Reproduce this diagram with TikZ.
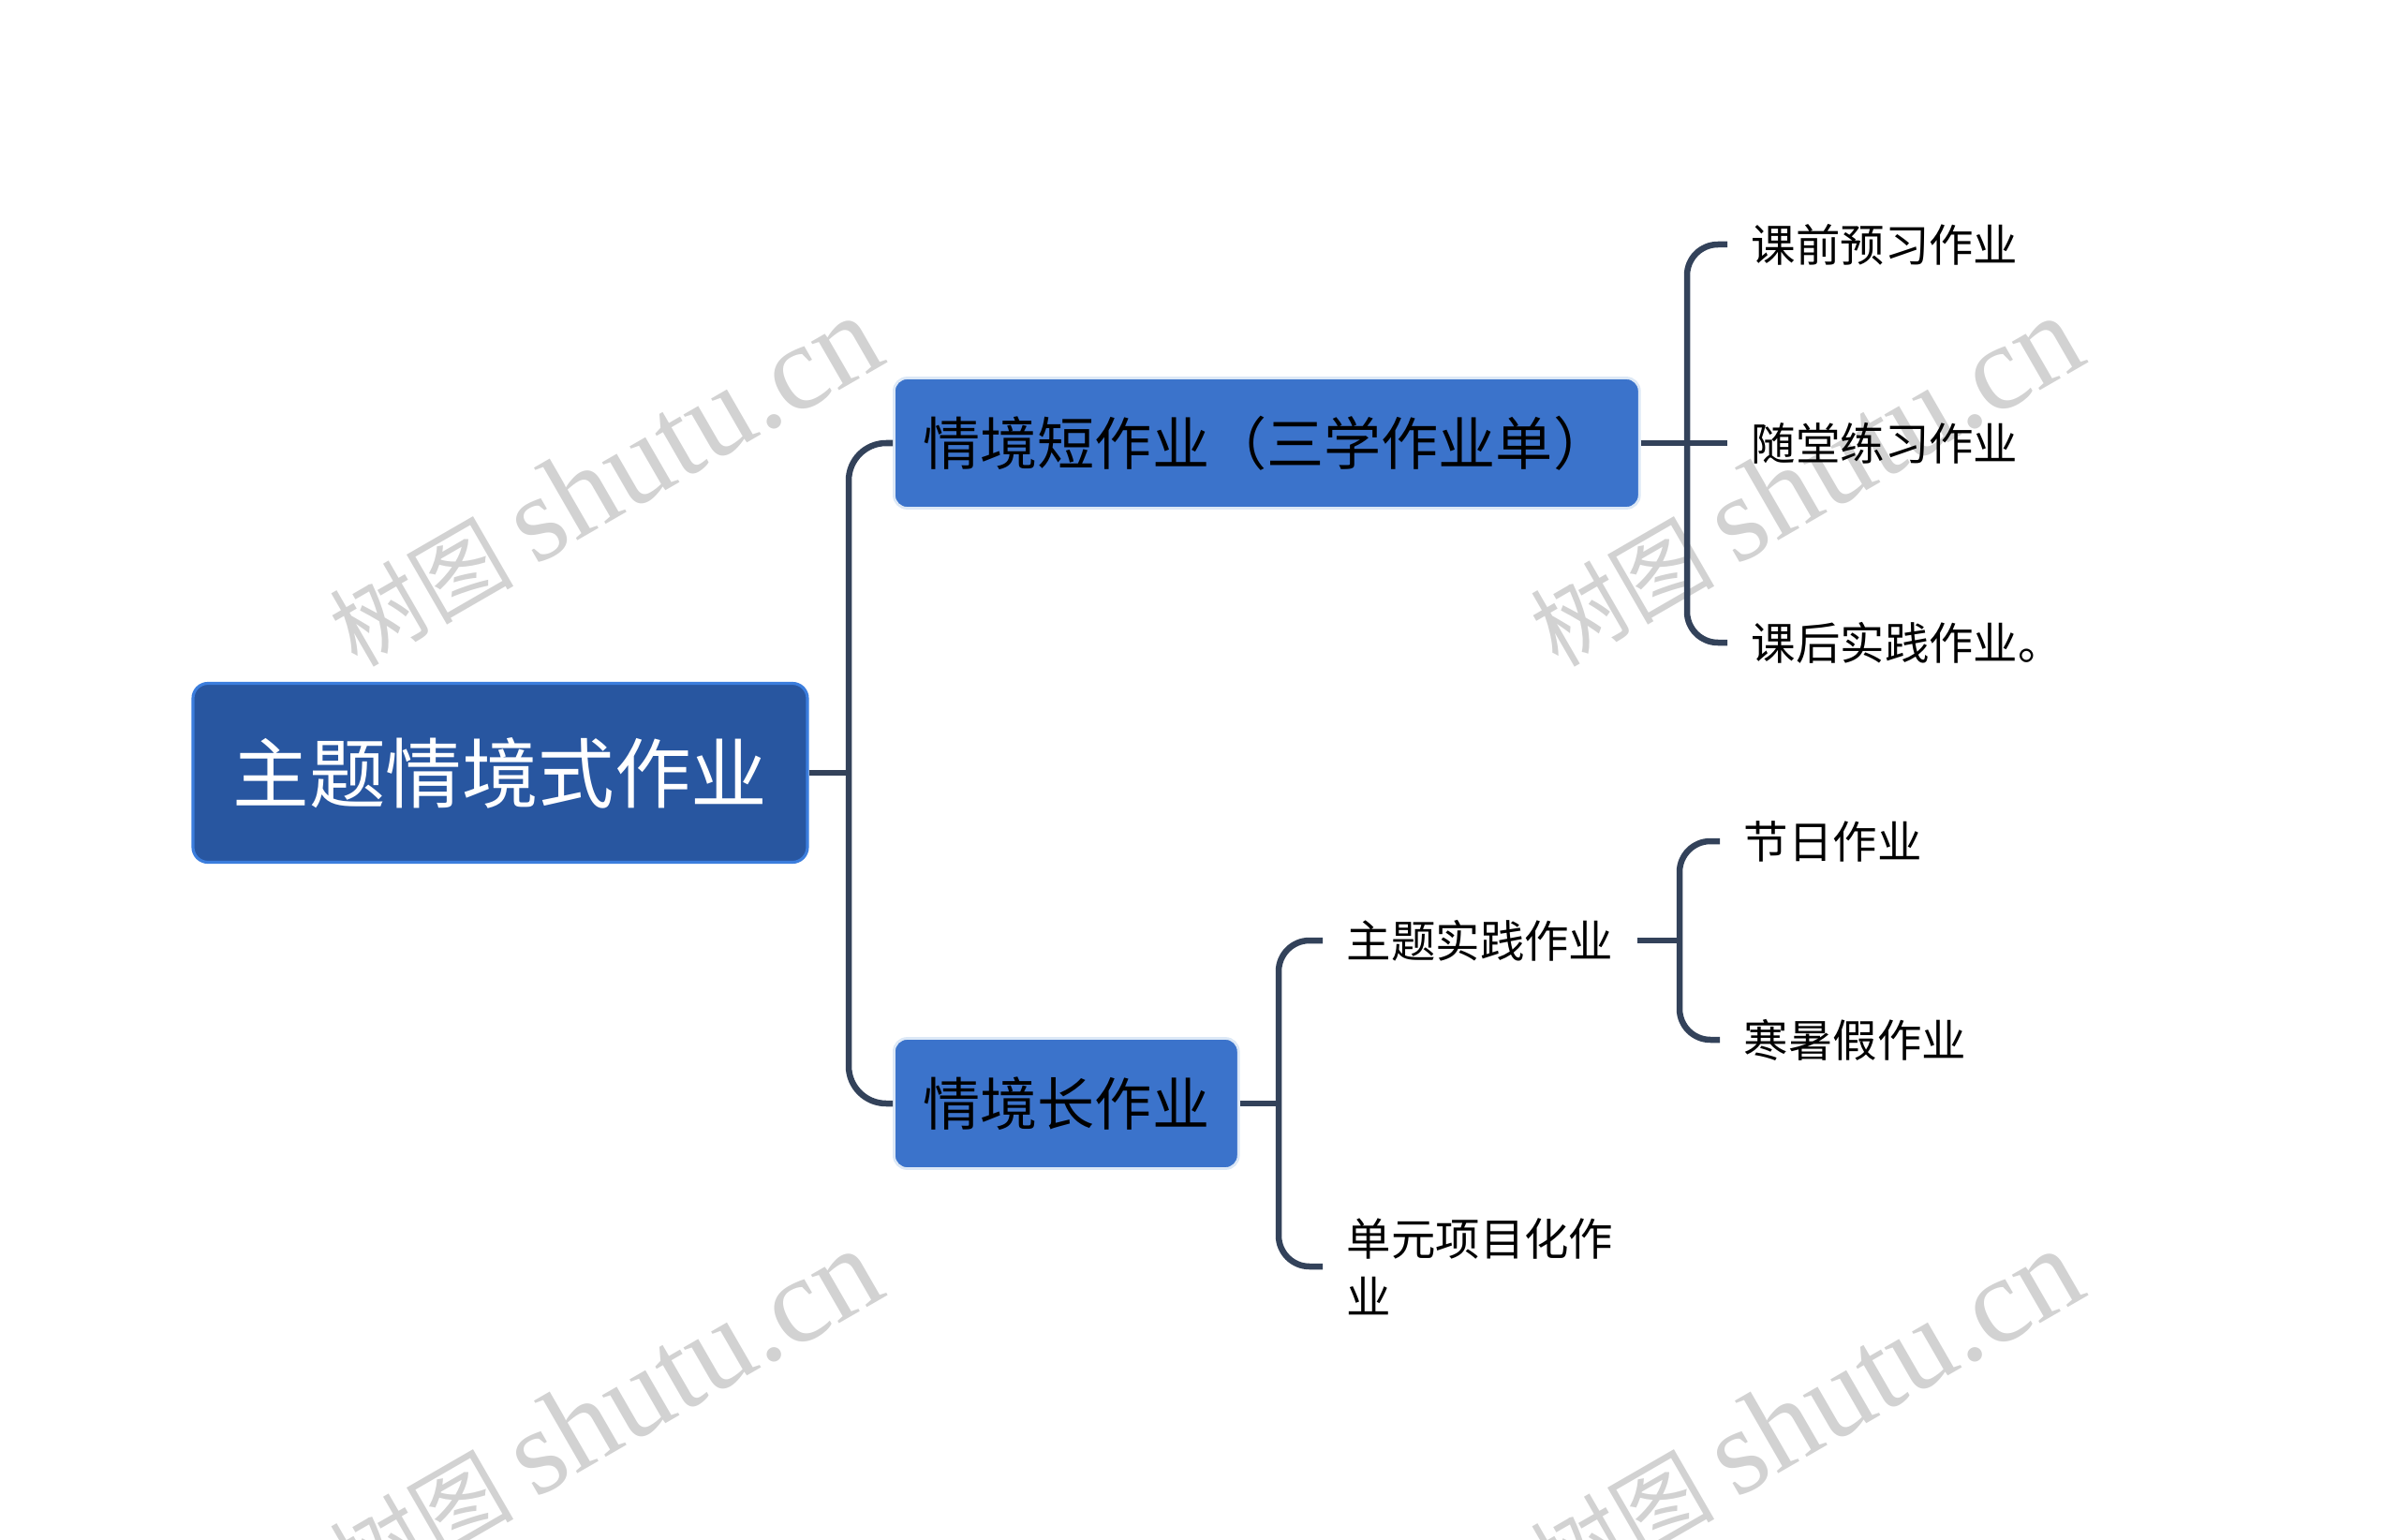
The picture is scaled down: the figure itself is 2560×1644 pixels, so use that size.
\documentclass[tikz,border=0pt]{standalone}
\usepackage{fontspec}
\setmainfont{Noto Sans CJK SC}
\newfontfamily\wmlatin{Liberation Serif}
\usetikzlibrary{positioning}
\definecolor{rootblue}{HTML}{2856A0}
\definecolor{rootedge}{HTML}{3B7DDD}
\definecolor{subblue}{HTML}{3B73CB}
\definecolor{subedge}{HTML}{DCE8F6}
\definecolor{linkgray}{HTML}{33425A}

\begin{document}
\begin{tikzpicture}[
  x=0.1mm,y=-0.1mm,
  rootbox/.style={draw=rootedge,line width=0.9pt,fill=rootblue,rounded corners=1.6mm,
    text=white,font=\fontsize{23.2}{28}\selectfont,minimum width=65.6mm,minimum height=19.1mm},
  subbox/.style={anchor=west,draw=subedge,line width=0.8pt,fill=subblue,rounded corners=1.4mm,
    font=\fontsize{17.4}{21}\selectfont,minimum height=13.9mm,inner xsep=3.1mm},
  leaf/.style={anchor=west,inner xsep=2.5mm,font=\fontsize{13.5}{17.6}\selectfont,align=left},
  link/.style={draw=linkgray,line width=1.85pt,rounded corners=3.3mm},
  wmark/.style={text=gray!35,font=\fontsize{28}{40}\selectfont,rotate=30}
]
  \useasboundingbox (0,0) rectangle (2560,1644);
  % watermarks
  \foreach \wx/\wy [count=\i] in {645/514,1927/514,645/1510,1927/1510}
    \node[wmark] (wm\i) at (\wx,\wy) {树图 {\wmlatin\fontsize{37}{40}\selectfont shutu.cn}};

  \node[rootbox] (root) at (534,825) {主题情境式作业};
  \node[subbox] (s1) at (953,473) {情境短作业（三学作业单）};
  \node[subbox] (s2) at (953,1178) {情境长作业};

  \node[leaf] (a1) at (1844,261) {课前预习作业};
  \node[leaf] (a2) at (1844,473) {随堂练习作业};
  \node[leaf] (a3) at (1844,686) {课后实践作业。};

  \node[leaf] (b1) at (1412,1004) {主题实践作业};
  \node[leaf] (b2) at (1412,1352) {单元项目化作\\业};

  \node[leaf] (c1) at (1836,898) {节日作业};
  \node[leaf] (c2) at (1836,1110) {寒暑假作业};

  % connectors
  \coordinate (rj) at (906,825);
  \coordinate (j1) at (1801,473);
  \coordinate (j2) at (1365,1178);
  \coordinate (j3) at (1793,1004);
  \draw[link] (root.east) -- (rj);
  \draw[link,rounded corners=4mm] (s1.west) -| (rj) |- (s2.west);
  \draw[link] (s1.east) -- (a2.west);
  \draw[link] (a1.west) -| (j1) |- (a3.west);
  \draw[link] (s2.east) -- (j2);
  \draw[link] (b1.west) -| (j2) |- (b2.west);
  \draw[link] (b1.east) -- (j3);
  \draw[link] (c1.west) -| (j3) |- (c2.west);
\end{tikzpicture}
\end{document}
